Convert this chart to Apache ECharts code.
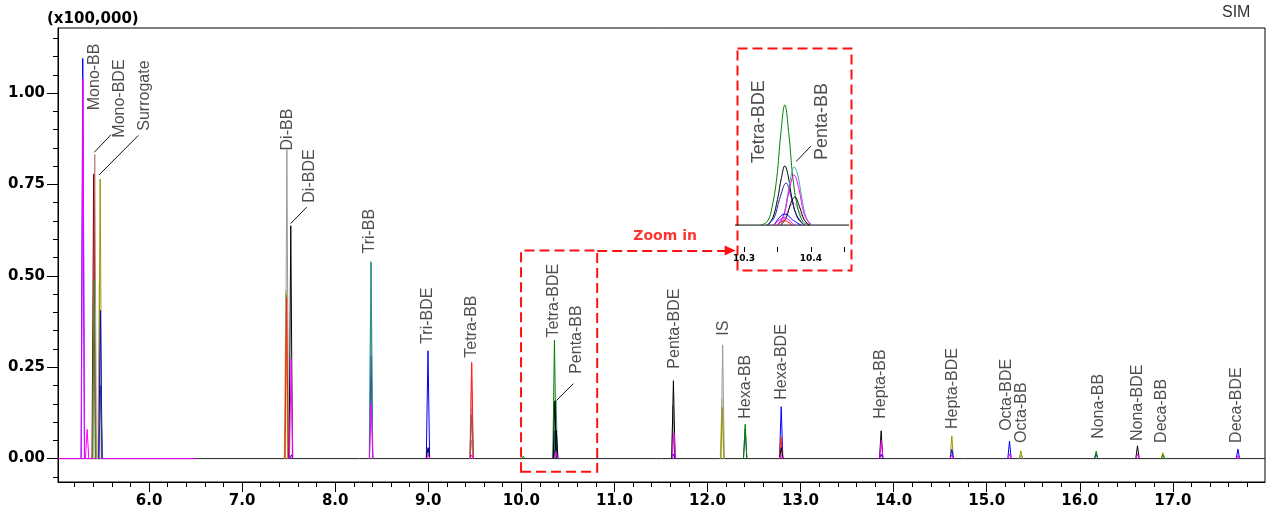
<!DOCTYPE html>
<html>
<head>
<meta charset="utf-8">
<title>SIM chromatogram</title>
<script src="https://cdn.jsdelivr.net/npm/echarts@6.0.0/dist/echarts.min.js"></script>
<style>
  html, body { margin: 0; padding: 0; background: #fff; }
  #chart { width: 1268px; height: 520px; }
</style>
</head>
<body>
<div id="chart"></div>
<script>
// 坐标轴范围与刻度
const xMin = 5.022, xMax = 17.99;
const yMin = -0.064, yMax = 1.178;
const xMajor = [6, 7, 8, 9, 10, 11, 12, 13, 14, 15, 16, 17];
const yMajor = [0, 0.25, 0.5, 0.75, 1.0];

// 各通道的峰: [保留时间, 峰高]
const magentaPeaks = [[5.29, 1.04], [5.335, 0.08], [7.527, 0.275], [8.387, 0.15], [9.0, 0.01], [9.467, 0.01],
  [10.37, 0.02], [11.64, 0.07], [12.79, 0.01], [13.868, 0.05], [14.625, 0.01], [15.245, 0.012], [16.62, 0.012], [17.7, 0.008]];
const bluePeaks = [[5.288, 1.095], [5.478, 0.405], [7.53, 0.01], [8.997, 0.295], [10.362, 0.075], [11.634, 0.012],
  [12.792, 0.142], [13.866, 0.012], [14.625, 0.025], [15.245, 0.048], [16.176, 0.012], [17.699, 0.026]];
const rosyPeaks = [[5.417, 0.832]];
const darkRedPeaks = [[5.405, 0.779]];
const darkGreenPeaks = [[5.41, 0.49]];
const oliveLightPeaks = [[5.466, 0.48], [7.47, 0.46], [12.155, 0.165]];
const olivePeaks = [[5.475, 0.765], [7.475, 0.45], [12.16, 0.14], [14.625, 0.062], [15.367, 0.021], [16.893, 0.016]];
const navyPeaks = [[5.48, 0.2], [8.386, 0.28], [12.405, 0.08]];
const grayPeaks = [[7.481, 0.845], [9.465, 0.05], [11.63, 0.145], [12.163, 0.311], [15.37, 0.01]];
const redLightPeaks = [[9.465, 0.265]];
const redPeaks = [[7.478, 0.44], [9.467, 0.262], [12.79, 0.06]];
const tealLightPeaks = [[8.383, 0.54], [9.465, 0.14]];
const tealPeaks = [[8.386, 0.537], [9.467, 0.12], [10.372, 0.16]];
const greenPeaks = [[10.02, 0.006], [10.356, 0.324], [12.405, 0.094], [16.176, 0.02], [16.893, 0.01]];
const blackPeaks = [[7.523, 0.637], [8.998, 0.03], [10.36, 0.158], [10.376, 0.077], [11.634, 0.213],
  [12.793, 0.03], [13.866, 0.076], [16.62, 0.035]];

// 化合物标注
const peakNames = ['Mono-BB', 'Mono-BDE', 'Surrogate', 'Di-BB', 'Di-BDE', 'Tri-BB', 'Tri-BDE', 'Tetra-BB',
  'Tetra-BDE', 'Penta-BB', 'Penta-BDE', 'IS', 'Hexa-BB', 'Hexa-BDE', 'Hepta-BB', 'Hepta-BDE', 'Octa-BDE',
  'Octa-BB', 'Nona-BB', 'Nona-BDE', 'Deca-BB', 'Deca-BDE'];
const labelX = [5.412, 5.688, 5.957, 7.486, 7.725, 8.375, 8.995, 9.468, 10.349, 10.599, 11.645, 12.171,
  12.412, 12.799, 13.862, 14.632, 15.217, 15.378, 16.2, 16.62, 16.882, 17.688];
const labelY = [0.953, 0.878, 0.897, 0.843, 0.7, 0.561, 0.314, 0.276, 0.331, 0.232, 0.246, 0.336,
  0.109, 0.161, 0.109, 0.081, 0.076, 0.043, 0.054, 0.048, 0.043, 0.043];
// 引线 [x1, y1, x2, y2]
const leaders = [[5.412, 0.838, 5.591, 0.886], [5.463, 0.776, 5.885, 0.884],
  [7.522, 0.643, 7.694, 0.688], [10.381, 0.16, 10.559, 0.205]];

// 放大图 (10.3 - 10.4 min)
const insetXMin = 10.2865, insetXMax = 10.457;
const insetGreen = [[10.325, 0], [10.335, 0.01], [10.342, 0.05], [10.349, 0.13], [10.355, 0.25], [10.361, 0.329],
  [10.367, 0.25], [10.373, 0.13], [10.38, 0.05], [10.388, 0.01], [10.398, 0]];
const insetBlack = [[10.335, 0], [10.343, 0.02], [10.35, 0.07], [10.356, 0.13], [10.361, 0.162], [10.366, 0.135],
  [10.372, 0.07], [10.38, 0.02], [10.39, 0]];
const insetNavy = [[10.335, 0], [10.345, 0.02], [10.353, 0.07], [10.363, 0.115], [10.37, 0.08], [10.378, 0.03], [10.39, 0]];
const insetTeal = [[10.35, 0], [10.358, 0.02], [10.365, 0.08], [10.371, 0.14], [10.375, 0.159], [10.38, 0.14],
  [10.386, 0.08], [10.393, 0.02], [10.402, 0]];
const insetPink = [[10.355, 0], [10.366, 0.04], [10.374, 0.06], [10.383, 0.035], [10.395, 0]];
const insetMagenta = [[10.35, 0], [10.36, 0.03], [10.367, 0.09], [10.375, 0.137], [10.382, 0.1], [10.39, 0.03], [10.4, 0]];
const insetBlack2 = [[10.355, 0], [10.363, 0.02], [10.37, 0.06], [10.376, 0.077], [10.383, 0.05], [10.39, 0.015], [10.398, 0]];
const insetBlue = [[10.345, 0], [10.355, 0.025], [10.362, 0.03], [10.372, 0.015], [10.385, 0]];
const insetRed = [[10.35, 0], [10.36, 0.012], [10.372, 0]];
const insetMagentaSmall = [[10.345, 0], [10.36, 0.02], [10.375, 0]];
const insetNames = ['Tetra-BDE', 'Penta-BB'];
const insetLabelX = [10.323, 10.416];
const insetLabelY = [0.169, 0.178];
const insetLeader = [10.378, 0.174, 10.40, 0.216];

// 峰 -> 折线 (窄三角峰)
function toLine(peaks) {
  const pts = [];
  peaks.forEach(function (p) {
    const hw = 0.018;
    pts.push([p[0] - hw, 0], [p[0], p[1]], [p[0] + hw, 0], '-');
  });
  return pts;
}

const mainTraces = [
  ['#80c4c4', tealLightPeaks], ['#ff8c8c', redLightPeaks], ['#c8c878', oliveLightPeaks],
  ['#9a9a9a', grayPeaks], ['#c08080', rosyPeaks], ['#990000', darkRedPeaks], ['#2f8f2f', darkGreenPeaks],
  ['#999900', olivePeaks], ['#0000ff', bluePeaks], ['#333399', navyPeaks], ['#2a8a8a', tealPeaks],
  ['#ff2020', redPeaks], ['#008000', greenPeaks], ['#000000', blackPeaks], ['#ff00ff', magentaPeaks]
];

const insetTraces = [
  ['#cc99cc', insetPink], ['#008000', insetGreen], ['#000000', insetBlack], ['#2222aa', insetNavy],
  ['#44a8a8', insetTeal], ['#ff00ff', insetMagenta], ['#000000', insetBlack2], ['#0000ff', insetBlue],
  ['#ff0000', insetRed], ['#ff00ff', insetMagentaSmall]
];

const minorX = [];
for (let v = 5.2; v < 17.95; v += 0.2) minorX.push(Math.round(v * 10) / 10);
const minorY = [];
for (let v = -0.05; v < 1.17; v += 0.05) minorY.push(Math.round(v * 100) / 100);

const boldFont = { fontFamily: 'DejaVu Sans', fontWeight: 'bold', fontSize: 15, color: '#000' };
const nameFont = { fontFamily: 'Liberation Sans', fontSize: 16, color: '#222' };

const series = [];

// 基线
series.push({
  type: 'line', xAxisIndex: 0, yAxisIndex: 0, symbol: 'none', silent: true,
  data: [[xMin, 0], [xMax, 0]],
  lineStyle: { color: '#222', width: 1 },
  markArea: {
    silent: true,
    itemStyle: { color: 'rgba(0,0,0,0)', borderColor: '#ff1010', borderWidth: 2, borderType: [10, 5] },
    data: [[{ coord: [9.997, -0.036] }, { coord: [10.815, 0.569] }]]
  },
  markLine: {
    silent: true,
    symbol: ['none', 'triangle'],
    symbolSize: [10, 11],
    label: { show: false },
    lineStyle: { color: '#ff1010', width: 2, type: [10, 5] },
    data: [[{ coord: [10.815, 0.569] }, { coord: [12.243, 0.569] }]]
  }
});
series.push({
  type: 'line', xAxisIndex: 0, yAxisIndex: 0, symbol: 'none', silent: true,
  data: [[xMin, 0], [6.5, 0]],
  lineStyle: { color: '#ff00ff', width: 1 }
});

mainTraces.forEach(function (t) {
  series.push({
    type: 'line', xAxisIndex: 0, yAxisIndex: 0, symbol: 'none', silent: true,
    data: toLine(t[1]),
    lineStyle: { color: t[0], width: 1 }
  });
});

// 标注文字
series.push({
  type: 'scatter', xAxisIndex: 0, yAxisIndex: 0, symbolSize: 0, silent: true,
  data: peakNames.map(function (n, i) { return { name: n, value: [labelX[i], labelY[i]] }; }),
  label: Object.assign({ show: true, formatter: '{b}', position: 'inside', align: 'left', verticalAlign: 'middle', rotate: 90 }, nameFont),
  markLine: {
    silent: true, symbol: ['none', 'none'], label: { show: false },
    lineStyle: { color: '#111', width: 1, type: 'solid' },
    data: leaders.map(function (l) { return [{ coord: [l[0], l[1]] }, { coord: [l[2], l[3]] }]; })
  }
});
series.push({
  type: 'scatter', xAxisIndex: 0, yAxisIndex: 0, symbolSize: 0, silent: true,
  data: [{ name: 'Zoom in', value: [11.545, 0.607] }],
  label: { show: true, formatter: '{b}', position: 'inside', fontFamily: 'DejaVu Sans', fontWeight: 'bold', fontSize: 14, color: '#ff0000' }
});

// 放大图
series.push({
  type: 'line', xAxisIndex: 2, yAxisIndex: 2, symbol: 'none', silent: true,
  data: [[insetXMin, 0], [insetXMax, 0]],
  lineStyle: { color: '#000', width: 1 }
});
insetTraces.forEach(function (t) {
  series.push({
    type: 'line', xAxisIndex: 2, yAxisIndex: 2, symbol: 'none', silent: true, smooth: 0.4,
    data: t[1],
    lineStyle: { color: t[0], width: 1 }
  });
});
series.push({
  type: 'scatter', xAxisIndex: 2, yAxisIndex: 2, symbolSize: 0, silent: true,
  data: insetNames.map(function (n, i) { return { name: n, value: [insetLabelX[i], insetLabelY[i]] }; }),
  label: { show: true, formatter: '{b}', position: 'inside', align: 'left', verticalAlign: 'middle', rotate: 90,
    fontFamily: 'Liberation Sans', fontSize: 18, color: '#222' },
  markLine: {
    silent: true, symbol: ['none', 'none'], label: { show: false },
    lineStyle: { color: '#111', width: 1, type: 'solid' },
    data: [[{ coord: [insetLeader[0], insetLeader[1]] }, { coord: [insetLeader[2], insetLeader[3]] }]]
  }
});

const chart = echarts.init(document.getElementById('chart'));
chart.setOption({
  animation: false,
  backgroundColor: '#fff',
  grid: [
    { left: 58, right: 3, top: 28, bottom: 38, show: true, borderColor: '#000', borderWidth: 1, backgroundColor: 'rgba(0,0,0,0)' },
    { left: 735, right: 419, top: 46, bottom: 273 }
  ],
  xAxis: [
    {
      type: 'value', gridIndex: 0, min: xMin, max: xMax, position: 'bottom',
      axisLine: { show: true, onZero: false, lineStyle: { color: '#000' } },
      axisTick: { show: true, inside: false, length: 10, customValues: xMajor, lineStyle: { color: '#000' } },
      axisLabel: Object.assign({ show: true, margin: 12, customValues: xMajor, formatter: function (v) { return v.toFixed(1); } }, boldFont),
      splitLine: { show: false }
    },
    {
      type: 'value', gridIndex: 0, min: xMin, max: xMax, position: 'bottom',
      axisLine: { show: false, onZero: false },
      axisTick: { show: true, inside: false, length: 5, customValues: minorX, lineStyle: { color: '#000' } },
      axisLabel: { show: false },
      splitLine: { show: false }
    },
    {
      type: 'value', gridIndex: 1, min: insetXMin, max: insetXMax, position: 'bottom',
      axisLine: { show: false, onZero: false },
      axisTick: { show: true, inside: false, length: 5, customValues: [10.3, 10.35, 10.4, 10.45], lineStyle: { color: '#000' } },
      axisLabel: { show: true, margin: 7, customValues: [10.3, 10.4], formatter: function (v) { return v.toFixed(1); },
        fontFamily: 'DejaVu Sans', fontWeight: 'bold', fontSize: 9, color: '#000' },
      splitLine: { show: false }
    }
  ],
  yAxis: [
    {
      type: 'value', gridIndex: 0, min: yMin, max: yMax, position: 'left',
      axisLine: { show: true, onZero: false, lineStyle: { color: '#000' } },
      axisTick: { show: true, inside: false, length: 11, customValues: yMajor, lineStyle: { color: '#000' } },
      axisLabel: Object.assign({ show: true, margin: 13, customValues: yMajor, formatter: function (v) { return v.toFixed(2); } }, boldFont),
      splitLine: { show: false }
    },
    {
      type: 'value', gridIndex: 0, min: yMin, max: yMax, position: 'left',
      axisLine: { show: false, onZero: false },
      axisTick: { show: true, inside: false, length: 5, customValues: minorY, lineStyle: { color: '#000' } },
      axisLabel: { show: false },
      splitLine: { show: false }
    },
    {
      type: 'value', gridIndex: 1, min: -0.06, max: 0.49, show: false
    }
  ],
  graphic: [
    { type: 'text', left: 47, top: 12, style: { text: '(x100,000)', font: 'bold 15px "DejaVu Sans"', fill: '#000' } },
    { type: 'text', left: 1222, top: 5, style: { text: 'SIM', font: '16px "Liberation Sans"', fill: '#333' } },
    { type: 'rect', left: 735, top: 46, shape: { width: 114, height: 222 },
      style: { fill: 'none', stroke: '#ff1010', lineWidth: 2, lineDash: [10, 5] } }
  ],
  series: series
});
</script>
</body>
</html>
